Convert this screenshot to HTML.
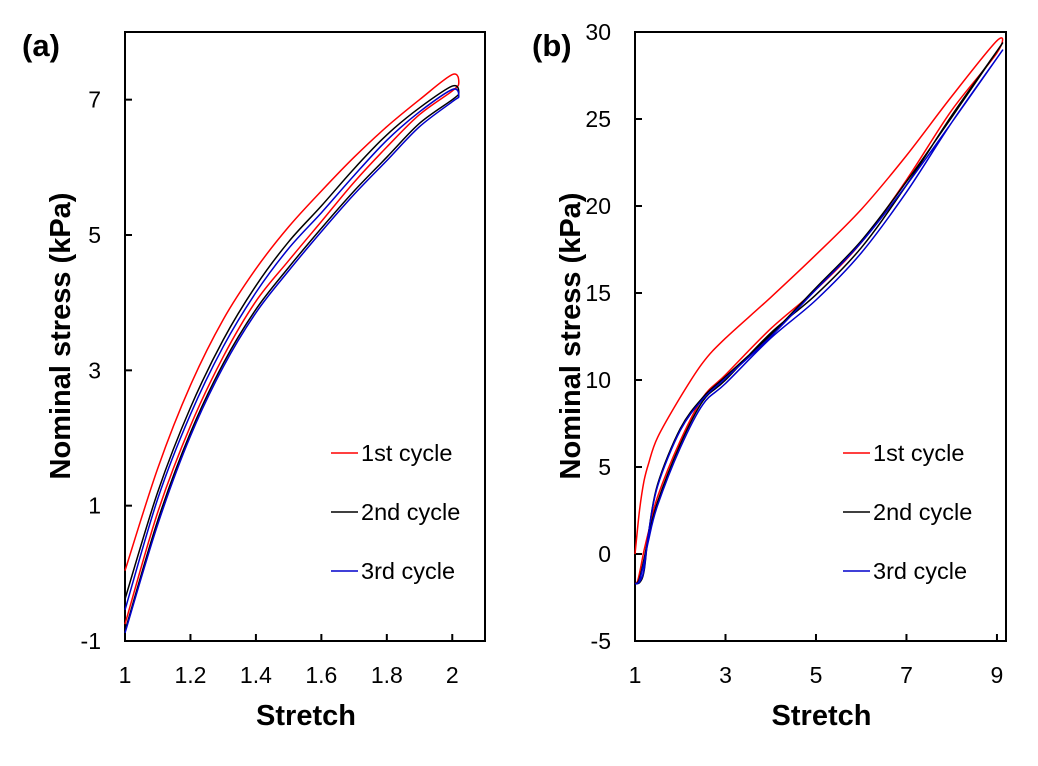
<!DOCTYPE html>
<html><head><meta charset="utf-8"><style>
html,body{margin:0;padding:0;background:#fff}
svg{display:block;font-family:"Liberation Sans",Arial,sans-serif}
.tick{font-size:23px;fill:#000}
.title{font-size:29px;font-weight:bold;fill:#000}
.plabel{font-size:31px;font-weight:bold;fill:#000}
.leg{font-size:23.5px;fill:#000}
</style></head><body>
<svg id="chart" width="1038" height="766" viewBox="0 0 1038 766" xmlns="http://www.w3.org/2000/svg"></svg>
<script>
// Panel (a) data
const aXTicks=[1,1.2,1.4,1.6,1.8,2];
const aXTickLabels=["1","1.2","1.4","1.6","1.8","2"];
const aYTicks=[-1,1,3,5,7];
const aYTickLabels=["-1","1","3","5","7"];
const aXUp=[1,1.1,1.2,1.3,1.4,1.5,1.6,1.7,1.8,1.9,2.0];
const aXDown=[2.0,1.9,1.8,1.7,1.6,1.5,1.4,1.3,1.2,1.1,1.0];
const aRedUp=[0.04,1.55,2.78,3.75,4.5,5.12,5.65,6.15,6.6,7.0,7.37];
const aRedDown=[7.13,6.78,6.3,5.78,5.2,4.62,4.02,3.2,2.18,0.9,-0.75];
const aBlackUp=[-0.38,1.2,2.45,3.45,4.25,4.9,5.43,5.98,6.48,6.88,7.2];
const aBlackDown=[7.0,6.65,6.15,5.65,5.1,4.52,3.9,3.1,2.08,0.78,-0.85];
const aBlueUp=[-0.54,1.1,2.35,3.35,4.15,4.8,5.33,5.88,6.4,6.82,7.15];
const aBlueDown=[6.97,6.6,6.1,5.6,5.05,4.47,3.85,3.05,2.03,0.72,-0.88];
const aTip=[7.25,7.1,7.05];
// Panel (b) data
const bXTicks=[1,3,5,7,9];
const bXTickLabels=["1","3","5","7","9"];
const bYTicks=[-5,0,5,10,15,20,25,30];
const bYTickLabels=["-5","0","5","10","15","20","25","30"];
const bXUp=[1,1.1,1.2,1.3,1.5,2,2.5,3,4,5,6,7,8,9];
const bXDown=[9,8,7,6,5,4,3,2.5,2,1.5,1.3,1.2,1.1,1.05,1];
const bRedUp=[0,2.5,4.2,5.2,6.7,9.0,11.0,12.4,14.75,17.2,19.8,22.9,26.3,29.5];
const bRedDown=[28.8,25.5,21.5,17.9,15.2,12.95,10.3,9.0,6.5,3.3,1.3,0.2,-1.1,-1.6,-1.7];
const bBlackUp=[-1.7,-1.65,-1.0,1.2,4.0,7.2,9.0,10.2,12.6,15.3,18.0,21.4,25.1,28.9];
const bBlackDown=[28.9,25.2,21.2,17.6,14.9,12.7,10.0,8.8,6.3,3.0,1.0,-0.3,-1.4,-1.65,-1.7];
const bBlueUp=[-1.7,-1.6,-0.9,1.2,3.9,7.1,8.9,10.1,12.5,15.2,17.9,21.2,24.8,28.5];
const bBlueDown=[28.5,24.8,20.8,17.3,14.6,12.4,9.8,8.6,6.1,2.8,0.8,-0.5,-1.5,-1.7,-1.7];

const NS="http://www.w3.org/2000/svg";
const svg=document.getElementById('chart');
function mk(tag,attrs,parent){const e=document.createElementNS(NS,tag);for(const k in attrs)e.setAttribute(k,attrs[k]);(parent||svg).appendChild(e);return e;}

function panel(cfg){
  const g=mk('g',{});
  
  
  const sx=v=>cfg.L+(v-cfg.x0)/(cfg.x1-cfg.x0)*(cfg.R-cfg.L);
  const sy=v=>cfg.B-(v-cfg.y0)/(cfg.y1-cfg.y0)*(cfg.B-cfg.T);
  const frame=mk('rect',{x:cfg.L,y:cfg.T,width:cfg.R-cfg.L,height:cfg.B-cfg.T,fill:'none',stroke:'#000','stroke-width':2},g);
  
  
  cfg.xt.forEach((v,i)=>{
    const t=mk('line',{x1:sx(v),x2:sx(v),y1:cfg.B,y2:cfg.B-7,stroke:'#000','stroke-width':2},g);
    
    
    const l=mk('text',{x:sx(v),y:cfg.B+42,'text-anchor':'middle',class:'tick'},g);
    l.textContent=cfg.xl[i];
    
    
  });
  cfg.yt.forEach((v,i)=>{
    const t=mk('line',{x1:cfg.L,x2:cfg.L+7,y1:sy(v),y2:sy(v),stroke:'#000','stroke-width':2},g);
    
    
    const l=mk('text',{x:cfg.L-24,y:sy(v)+8,'text-anchor':'end',class:'tick'},g);
    l.textContent=cfg.yl[i];
    
    
  });
  cfg.series.forEach(s=>{
    let pts=[];
    cfg.xu.forEach((x,i)=>pts.push([sx(x),sy(s.up[i])]));
    if(s.tip!==undefined) pts.push([sx(cfg.tipX),sy(s.tip)]);
    cfg.xd.forEach((x,i)=>pts.push([sx(x),sy(s.down[i])]));
    let d='M'+pts[0][0]+','+pts[0][1];
    for(let i=0;i<pts.length-1;i++){
      const p0=pts[Math.max(0,i-1)],p1=pts[i],p2=pts[i+1],p3=pts[Math.min(pts.length-1,i+2)];
      const c1=[p1[0]+(p2[0]-p0[0])/6,p1[1]+(p2[1]-p0[1])/6];
      const c2=[p2[0]-(p3[0]-p1[0])/6,p2[1]-(p3[1]-p1[1])/6];
      d+=' C'+c1[0].toFixed(1)+','+c1[1].toFixed(1)+' '+c2[0].toFixed(1)+','+c2[1].toFixed(1)+' '+p2[0].toFixed(1)+','+p2[1].toFixed(1);
    }
    const p=mk('path',{d:d,fill:'none',stroke:s.color,'stroke-width':1.5},g);
    
    
  });
  const legY=[453,512,571],names=['1st cycle','2nd cycle','3rd cycle'],cols=['#f00','#000','#00c'];
  names.forEach((n,i)=>{
    const lg=mk('g',{},g);
    
    
    mk('line',{x1:cfg.legX,x2:cfg.legX+27,y1:legY[i],y2:legY[i],stroke:cols[i],'stroke-width':1.5},lg);
    const t=mk('text',{x:cfg.legX+30,y:legY[i]+8,class:'leg'},lg);t.textContent=n;
  });
  const xt=mk('text',{x:(cfg.L+cfg.R)/2+1,y:725,'text-anchor':'middle',class:'title'},g);
  xt.textContent='Stretch';
  
  
  const yt=mk('text',{x:0,y:0,'text-anchor':'middle',class:'title',transform:'translate('+(cfg.L-55)+',336) rotate(-90)'},g);
  yt.textContent='Nominal stress (kPa)';
  
  
  const pl=mk('text',{x:cfg.L-103,y:56,class:'plabel'},g);
  pl.textContent=cfg.label;
  
  
}
panel({name:'panel-a',label:'(a)',L:125,R:485,T:32,B:641,x0:1,x1:2.1,y0:-1,y1:8,
  xt:aXTicks,xl:aXTickLabels,yt:aYTicks,yl:aYTickLabels,xu:aXUp,xd:aXDown,tipX:2.02,legX:331,
  series:[{id:'series-1st-cycle',color:'#f00',up:aRedUp,down:aRedDown,tip:aTip[0]},
          {id:'series-2nd-cycle',color:'#000',up:aBlackUp,down:aBlackDown,tip:aTip[1]},
          {id:'series-3rd-cycle',color:'#00c',up:aBlueUp,down:aBlueDown,tip:aTip[2]}]});
panel({name:'panel-b',label:'(b)',L:635,R:1006,T:32,B:641,x0:1,x1:9.2,y0:-5,y1:30,
  xt:bXTicks,xl:bXTickLabels,yt:bYTicks,yl:bYTickLabels,xu:bXUp,xd:bXDown,legX:843,
  series:[{id:'series-1st-cycle',color:'#f00',up:bRedUp,down:bRedDown},
          {id:'series-2nd-cycle',color:'#000',up:bBlackUp,down:bBlackDown},
          {id:'series-3rd-cycle',color:'#00c',up:bBlueUp,down:bBlueDown}]});
</script>
</body></html>
